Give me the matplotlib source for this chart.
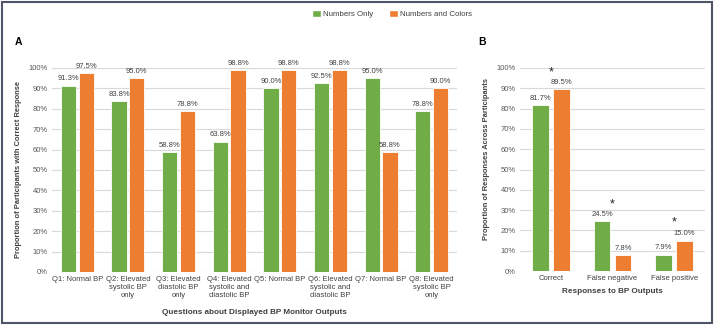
import matplotlib.pyplot as plt
import numpy as np
from matplotlib.patches import Rectangle, Patch

plt.rcParams['font.family'] = ['Liberation Sans', 'DejaVu Sans']

# panel A data
questions = ["Q1: Normal BP", "Q2: Elevated\nsystolic BP\nonly", "Q3: Elevated\ndiastolic BP\nonly",
             "Q4: Elevated\nsystolic and\ndiastolic BP", "Q5: Normal BP",
             "Q6: Elevated\nsystolic and\ndiastolic BP", "Q7: Normal BP",
             "Q8: Elevated\nsystolic BP\nonly"]
a_numbers = [91.3, 83.8, 58.8, 63.8, 90.0, 92.5, 95.0, 78.8]
a_colors = [97.5, 95.0, 78.8, 98.8, 98.8, 98.8, 58.8, 90.0]

# panel B data
responses = ["Correct", "False negative", "False positive"]
b_numbers = [81.7, 24.5, 7.9]
b_colors = [89.5, 7.8, 15.0]
b_star_y = [98, 33, 24]

GREEN = "#70AD47"
ORANGE = "#ED7D31"
TXT = "#404040"
TICK = "#595959"
GRID = "#D9D9D9"
FS = 5.5

fig = plt.figure(figsize=(7.15, 3.25), dpi=100)


def style_axes(ax):
    ax.set_ylim(0, 100)
    ax.set_yticks(np.arange(0, 101, 10))
    ax.set_yticklabels([f"{v}%" for v in range(0, 101, 10)])
    ax.yaxis.grid(True, color=GRID, lw=0.8)
    ax.set_axisbelow(True)
    for s in ax.spines.values():
        s.set_visible(False)
    ax.tick_params(length=0, labelsize=FS, colors=TICK, pad=3)


def bars(ax, vals1, vals2, w, off):
    x = np.arange(len(vals1))
    b1 = ax.bar(x - off, vals1, w, color=GREEN, edgecolor="white", lw=0.6)
    b2 = ax.bar(x + off, vals2, w, color=ORANGE, edgecolor="white", lw=0.6)
    for bs, vals in ((b1, vals1), (b2, vals2)):
        for b, v in zip(bs, vals):
            ax.annotate(f"{v:.1f}%", (b.get_x() + b.get_width() / 2, v),
                        xytext=(0, 2.5), textcoords="offset points",
                        ha="center", va="bottom", fontsize=FS, color=TXT,
                        annotation_clip=False)
    ax.set_xlim(-0.5, len(vals1) - 0.5)
    ax.set_xticks(x)


# Panel A
axA = fig.add_axes([52 / 715, 1 - 272 / 325, 405 / 715, 204 / 325])
style_axes(axA)
bars(axA, a_numbers, a_colors, 0.3, 0.175)
axA.set_xticklabels(questions, fontsize=FS, color=TXT, linespacing=1.2, va="top")
axA.set_ylabel("Proportion of Participants with Correct Response", fontsize=5.4,
               fontweight="bold", color=TXT, labelpad=5)
axA.set_xlabel("Questions about Displayed BP Monitor Outputs", fontsize=5.9,
               fontweight="bold", color=TXT, labelpad=7)

# Panel B
axB = fig.add_axes([520 / 715, 1 - 271 / 325, 185 / 715, 203 / 325])
style_axes(axB)
bars(axB, b_numbers, b_colors, 0.27, 0.17)
axB.set_xticklabels(responses, fontsize=FS, color=TXT)
axB.set_ylabel("Proportion of Responses Across Participants", fontsize=5.4,
               fontweight="bold", color=TXT, labelpad=5)
axB.yaxis.label.set_y(0.55)
axB.set_xlabel("Responses to BP Outputs", fontsize=5.9, fontweight="bold",
               color=TXT, labelpad=4)
for i, y in enumerate(b_star_y):
    axB.text(i, y, "*", ha="center", va="center", fontsize=9, color="#222222")

# panel letters
fig.text(15 / 715, 1 - 42 / 325, "A", fontsize=7.5, fontweight="bold", va="center")
fig.text(478 / 715, 1 - 42 / 325, "B", fontsize=7.5, fontweight="bold", va="center")

# legend
handles = [Patch(facecolor=GREEN, edgecolor="white"), Patch(facecolor=ORANGE, edgecolor="white")]
fig.legend(handles, ["Numbers Only", "Numbers and Colors"], loc="center",
           bbox_to_anchor=(392 / 715, 1 - 14 / 325), ncol=2, frameon=False,
           fontsize=5.7, handlelength=1.1, handleheight=1.1, handletextpad=0.3,
           columnspacing=2.0, labelcolor=TXT)

# outer frame
fig.patches.append(Rectangle((2 / 715, 2 / 325), 710 / 715, 321 / 325,
                             transform=fig.transFigure, fill=False,
                             edgecolor="#4D5566", lw=1.5))

fig.savefig("out.png", dpi=100)
